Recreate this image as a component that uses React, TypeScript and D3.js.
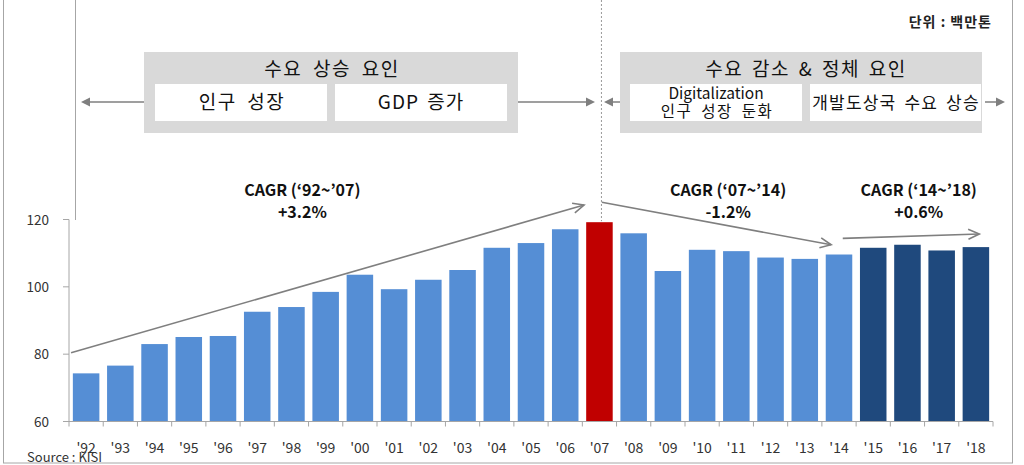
import React from "react";
import * as d3 from "d3";

const years = ["'92","'93","'94","'95","'96","'97","'98","'99","'00","'01","'02","'03","'04","'05","'06","'07","'08","'09","'10","'11","'12","'13","'14","'15","'16","'17","'18"];
const values = [74.3,76.6,83.0,85.1,85.4,92.6,94.0,98.5,103.6,99.3,102.1,105.0,111.6,113.0,117.1,119.2,115.9,104.7,111.0,110.6,108.7,108.3,109.6,111.6,112.5,110.8,111.8];
const yTicks = [60, 80, 100, 120];
const peakYear = "'07";
const forecastYears = ["'15","'16","'17","'18"];

// trend arrows: category + offset (fraction of band step) + value
const trendArrows = [
  { fromCat: "'92", fromOff: 0.06, fromVal: 80.4, toCat: "'07", toOff: 0.05, toVal: 124.3 },
  { fromCat: "'07", fromOff: 0.57, fromVal: 125.1, toCat: "'14", toOff: 0.27, toVal: 112.5 },
  { fromCat: "'14", fromOff: 0.61, fromVal: 114.4, toCat: "'18", toOff: 0.6, toVal: 115.7 },
];
const cagrLabels = [
  { title: "CAGR (‘92~’07)", rate: "+3.2%", cat: "'98", off: 0.82 },
  { title: "CAGR (‘07~’14)", rate: "-1.2%", cat: "'11", off: 0.26 },
  { title: "CAGR (‘14~’18)", rate: "+0.6%", cat: "'16", off: 0.83 },
];

const W = 1024, H = 465;
const FONT = "'Noto Sans CJK KR', 'Malgun Gothic', sans-serif";
const BLUE = "#558ED5", RED = "#C00000", NAVY = "#1F497D";

export default function App() {
  const x = d3.scaleBand<string>().domain(years).range([69, 993]).paddingInner(0.225).paddingOuter(0.1125);
  const y = d3.scaleLinear().domain([60, 120]).range([421.5, 219.5]);
  const step = x.step();
  const bw = x.bandwidth();
  const bandStart = (c: string) => (x(c) as number) - (step - bw) / 2;

  const color = (c: string) => (c === peakYear ? RED : forecastYears.includes(c) ? NAVY : BLUE);

  const chevron = (x1: number, y1: number, x2: number, y2: number, len = 11, half = 5) => {
    const a = Math.atan2(y2 - y1, x2 - x1);
    const bx = x2 - len * Math.cos(a), by = y2 - len * Math.sin(a);
    const px = -Math.sin(a) * half, py = Math.cos(a) * half;
    return `M${bx + px},${by + py}L${x2},${y2}L${bx - px},${by - py}`;
  };

  const dividerX = (x(peakYear) as number) + bw / 2 + 2;
  const arrowY = 102;

  const tri = (tipX: number, dir: number) =>
    `M${tipX},${arrowY}L${tipX - dir * 9},${arrowY - 4.5}L${tipX - dir * 9},${arrowY + 4.5}Z`;

  return (
    <svg width={W} height={H} style={{ position: "absolute", left: 0, top: 0, background: "#fff", fontFamily: FONT }}>
      {/* outer frame */}
      <rect x={3.5} y={-2} width={1009} height={465} fill="none" stroke="#a6a6a6" strokeWidth={1} />
      {/* stray vertical line */}
      <line x1={75.5} y1={0} x2={75.5} y2={220} stroke="#a6a6a6" strokeWidth={1} />

      {/* unit */}
      <text x={992} y={27} textAnchor="end" fontSize={14} letterSpacing={1} fontWeight={700} fill="#222">단위 : 백만톤</text>

      {/* left box */}
      <rect x={144} y={52} width={374} height={81} fill="#d9d9d9" />
      <text x={332} y={76} textAnchor="middle" fontSize={19} letterSpacing={1.5} wordSpacing={5} fill="#111">수요 상승 요인</text>
      <rect x={155} y={84} width={172} height={37} fill="#fff" />
      <rect x={335} y={84} width={172} height={37} fill="#fff" />
      <text x={242} y={109} textAnchor="middle" fontSize={19} letterSpacing={1.5} wordSpacing={5} fill="#111">인구 성장</text>
      <text x={421} y={109} textAnchor="middle" fontSize={19} letterSpacing={1} wordSpacing={3} fill="#111">GDP 증가</text>

      {/* right box */}
      <rect x={620} y={52} width={362} height={81} fill="#d9d9d9" />
      <text x={806} y={76} textAnchor="middle" fontSize={19} letterSpacing={1.5} wordSpacing={3} fill="#111">수요 감소 &amp; 정체 요인</text>
      <rect x={630} y={84} width={172} height={37} fill="#fff" />
      <rect x={810} y={84} width={171} height={37} fill="#fff" />
      <text x={716} y={99} textAnchor="middle" fontSize={15.5} fill="#111">Digitalization</text>
      <text x={717} y={116.5} textAnchor="middle" fontSize={15.5} letterSpacing={1.5} wordSpacing={4} fill="#111">인구 성장 둔화</text>
      <text x={896} y={109} textAnchor="middle" fontSize={17} letterSpacing={1.2} wordSpacing={3} fill="#111">개발도상국 수요 상승</text>

      {/* box arrows */}
      <g stroke="#7f7f7f" strokeWidth={1.5} fill="#7f7f7f">
        <line x1={144} y1={arrowY} x2={88} y2={arrowY} />
        <path d={tri(81, -1)} stroke="none" />
        <line x1={518} y1={arrowY} x2={587} y2={arrowY} />
        <path d={tri(595, 1)} stroke="none" />
        <line x1={620} y1={arrowY} x2={612} y2={arrowY} />
        <path d={tri(604, -1)} stroke="none" />
        <line x1={985} y1={arrowY} x2={998} y2={arrowY} />
        <path d={tri(1005, 1)} stroke="none" />
      </g>

      {/* divider */}
      <line x1={dividerX} y1={0} x2={dividerX} y2={y(119.5)} stroke="#999" strokeWidth={1} strokeDasharray="2,2" />

      {/* bars */}
      {years.map((c, i) => (
        <rect key={c} x={x(c)} y={y(values[i])} width={bw} height={y(60) - y(values[i])} fill={color(c)} />
      ))}

      {/* y axis */}
      <line x1={69} y1={y(120)} x2={69} y2={y(60)} stroke="#a6a6a6" />
      {yTicks.map((t) => (
        <g key={t}>
          <line x1={63} x2={69} y1={y(t)} y2={y(t)} stroke="#a6a6a6" />
          <text x={49} y={y(t) + 5} textAnchor="end" fontSize={13.5} fill="#333">{t}</text>
        </g>
      ))}

      {/* x axis */}
      <line x1={69} x2={993} y1={y(60)} y2={y(60)} stroke="#a6a6a6" />
      {years.map((c) => (
        <line key={"t" + c} x1={bandStart(c)} x2={bandStart(c)} y1={y(60)} y2={y(60) + 5} stroke="#a6a6a6" />
      ))}
      <line x1={993} x2={993} y1={y(60)} y2={y(60) + 5} stroke="#a6a6a6" />
      {years.map((c) => (
        <text key={"l" + c} x={(x(c) as number) + bw / 2} y={453} textAnchor="middle" fontSize={14} fill="#333">{c}</text>
      ))}

      {/* trend arrows */}
      <g stroke="#7f7f7f" strokeWidth={1.6} fill="none">
        {trendArrows.map((a, i) => {
          const x1 = bandStart(a.fromCat) + a.fromOff * step;
          const x2 = bandStart(a.toCat) + a.toOff * step;
          const y1 = y(a.fromVal), y2 = y(a.toVal);
          return (
            <g key={i}>
              <line x1={x1} y1={y1} x2={x2} y2={y2} />
              <path d={chevron(x1, y1, x2, y2)} />
            </g>
          );
        })}
      </g>

      {/* CAGR labels */}
      {cagrLabels.map((l) => {
        const cx = bandStart(l.cat) + l.off * step;
        return (
          <g key={l.title} fontWeight={700} fontSize={16} fill="#111" textAnchor="middle">
            <text x={cx} y={196}>{l.title}</text>
            <text x={cx} y={218}>{l.rate}</text>
          </g>
        );
      })}

      <text x={27} y={462} fontSize={13} fill="#333">Source : KISI</text>
    </svg>
  );
}
